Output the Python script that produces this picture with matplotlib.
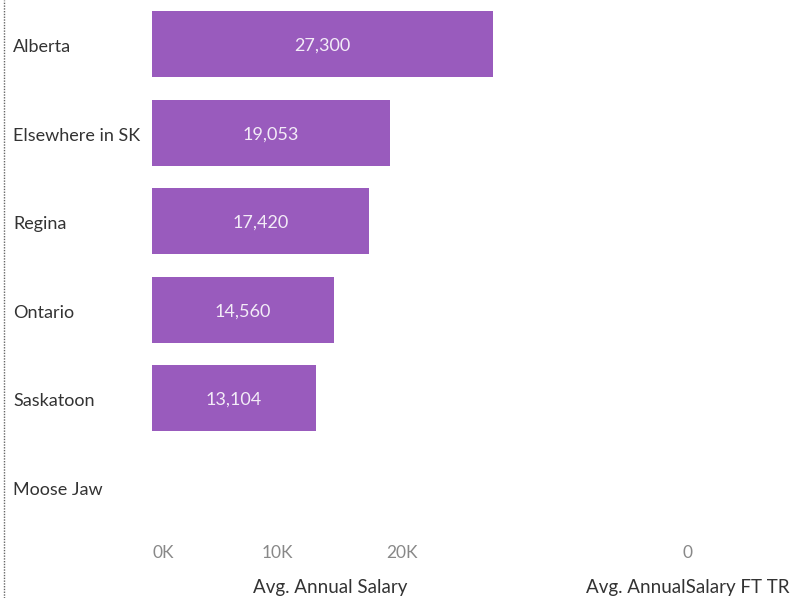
import matplotlib
matplotlib.use("Agg")
import matplotlib.pyplot as plt
from matplotlib.lines import Line2D
from matplotlib.ticker import FuncFormatter
import matplotlib.transforms as mtransforms

categories = ["Alberta", "Elsewhere in SK", "Regina", "Ontario", "Saskatoon", "Moose Jaw"]
avg_salary = [27300, 19053, 17420, 14560, 13104, None]
xticks1 = [0, 10000, 20000]

plt.rcParams['font.family'] = ['Lato', 'DejaVu Sans']

W, H = 791, 598
fig = plt.figure(figsize=(W / 100, H / 100), dpi=100)

bar_color = "#995BBD"
ax_top = 0
ax_bot = 531
ax1 = fig.add_axes([150 / W, 1 - ax_bot / H, 360 / W, (ax_bot - ax_top) / H])
ax2 = fig.add_axes([585 / W, 1 - ax_bot / H, 205 / W, (ax_bot - ax_top) / H])

n = len(categories)
lab_tr = mtransforms.blended_transform_factory(fig.transFigure, ax1.transData)
for i, (c, v) in enumerate(zip(categories, avg_salary)):
    ax1.text(13 / W, i + 0.035, c, transform=lab_tr, ha="left", va="center",
             fontsize=13, color="#333333")
    if v is None:
        continue
    ax1.barh(i, v, height=0.75, color=bar_color, left=0)
    ax1.text(v / 2, i + 0.02, f"{v:,.0f}", ha="center", va="center", color="#F3ECF7", fontsize=13)

ax1.set_ylim(n - 0.5, -0.5)
ax1.set_xlim(-200, 28700)
ax1.set_yticks([])
ax1.set_xticks(xticks1)
ax1.xaxis.set_major_formatter(FuncFormatter(lambda x, p: f"{x/1000:.0f}K"))
ax1.tick_params(axis="x", length=0, labelsize=12.5, labelcolor="#888888", pad=10)
ax1.set_xlabel("Avg. Annual Salary", fontsize=13.5, color="#333333", labelpad=13)
fig.canvas.draw()
first = ax1.get_xticklabels()[0]
first.set_horizontalalignment("left")
first.set_x(250)

ax2.set_ylim(n - 0.5, -0.5)
ax2.set_xlim(-1, 1)
ax2.set_yticks([])
ax2.set_xticks([0])
ax2.tick_params(axis="x", length=0, labelsize=12.5, labelcolor="#888888", pad=10)
ax2.set_xlabel("Avg. AnnualSalary FT TR", fontsize=13.5, color="#333333", labelpad=13)

for ax in (ax1, ax2):
    for s in ax.spines.values():
        s.set_visible(False)
    ax.set_facecolor("none")

fig.add_artist(Line2D([4 / W, 4 / W], [0, 1], transform=fig.transFigure,
                      color="#666666", linestyle=(0, (1, 1)), linewidth=1))

fig.savefig("out.png", dpi=100)
